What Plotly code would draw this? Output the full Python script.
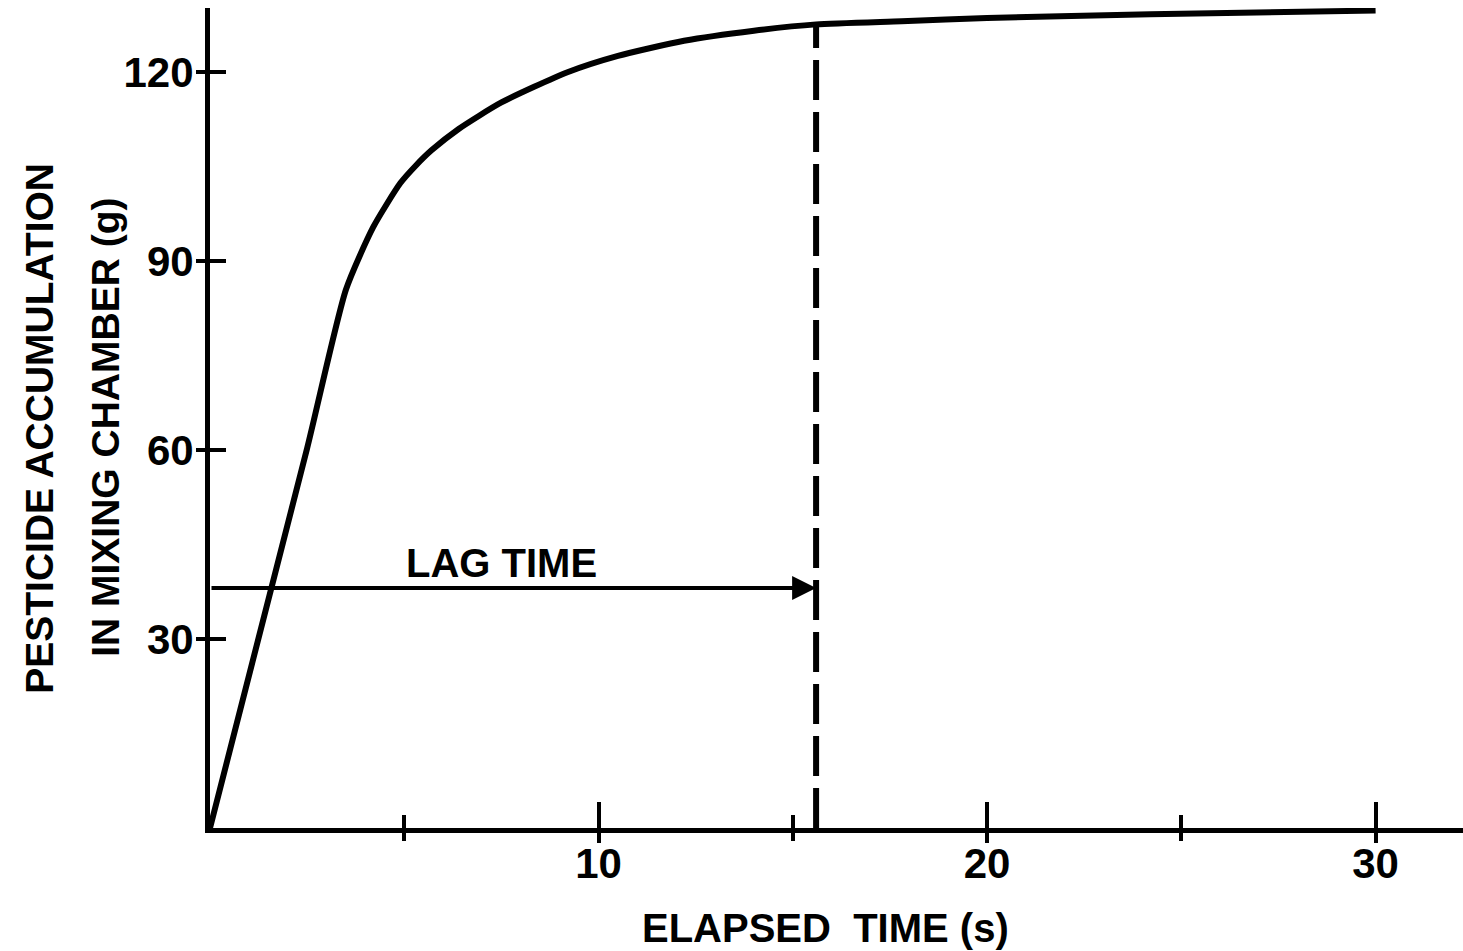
import plotly.graph_objects as go

# ---- data ----
time_s = [0, 2.5, 3.5, 4.2, 4.9, 5.3, 5.7, 6.4, 7.5, 9.2, 10.5, 12.2, 14.0, 15.6, 17.8, 20, 24.2, 30]
accum_g = [0, 60.3, 85.5, 95.4, 102.4, 105.2, 107.6, 111.0, 115.2, 120.0, 122.6, 125.0, 126.6, 127.6, 128.1, 128.6, 129.2, 129.8]

lag_time = 15.6
lag_top = 127.8
lag_level = 38.1

x_major = [10, 20, 30]
x_minor = [5, 15, 25]
y_major = [30, 60, 90, 120]

x_range = [0, 32.25]
y_range = [0, 130.2]

FONT = "Liberation Sans, Arial, Helvetica, sans-serif"

fig = go.Figure()

fig.add_trace(go.Scatter(
    x=time_s, y=accum_g, mode="lines",
    line=dict(color="black", width=6, shape="spline", smoothing=0.6),
    cliponaxis=False, showlegend=False, hoverinfo="skip"))

fig.add_trace(go.Scatter(
    x=[lag_time, lag_time], y=[0, lag_top], mode="lines",
    line=dict(color="black", width=6, dash="40px,12px"),
    showlegend=False, hoverinfo="skip"))

# overlay axes to draw the inner halves of the crossing ticks
fig.add_trace(go.Scatter(x=[], y=[], xaxis="x2", yaxis="y2", showlegend=False))

fig.add_annotation(
    x=lag_time, y=lag_level, ax=0, ay=lag_level, axref="x", ayref="y",
    xref="x", yref="y", text="", showarrow=True,
    arrowhead=2, arrowsize=1.2, arrowwidth=4, arrowcolor="black", standoff=0)

fig.add_annotation(
    x=7.5, y=lag_level, xref="x", yref="y", text="LAG TIME", showarrow=False,
    yanchor="bottom", yshift=1,
    font=dict(family=FONT, size=40, color="black", weight="bold"))

fig.add_annotation(
    x=0.491, y=-0.122, xref="paper", yref="paper", text="ELAPSED&nbsp;&nbsp;TIME (s)",
    showarrow=False, xanchor="center", yanchor="middle",
    font=dict(family=FONT, size=40, color="black", weight="bold"))

fig.add_annotation(
    x=-0.1357, y=0.488, xref="paper", yref="paper",
    text="PESTICIDE ACCUMULATION",
    showarrow=False, textangle=-90, xanchor="center", yanchor="middle",
    font=dict(family=FONT, size=39, color="black", weight="bold"))

fig.add_annotation(
    x=-0.083, y=0.488, xref="paper", yref="paper",
    text="IN MIXING CHAMBER (g)",
    showarrow=False, textangle=-90, xanchor="center", yanchor="middle",
    font=dict(family=FONT, size=39, color="black", weight="bold"))

tickfont = dict(family=FONT, size=42, color="black", weight="bold")

fig.update_layout(
    width=1463, height=951,
    margin=dict(l=210, r=0, t=8, b=123),
    paper_bgcolor="white", plot_bgcolor="white",
    showlegend=False,
    xaxis=dict(
        range=x_range, tickmode="array", tickvals=x_major,
        ticktext=[str(v) for v in x_major],
        ticks="outside", ticklen=10, tickwidth=4, tickcolor="black",
        minor=dict(tickmode="array", tickvals=x_minor, ticks="outside",
                   ticklen=8, tickwidth=4, tickcolor="black"),
        showline=True, linewidth=5, linecolor="black",
        showgrid=False, zeroline=False, tickfont=tickfont,
        ticklabelstandoff=-15),
    yaxis=dict(
        range=y_range, tickmode="array", tickvals=y_major,
        ticktext=[str(v) for v in y_major],
        ticks="outside", ticklen=9, tickwidth=4, tickcolor="black",
        showline=True, linewidth=5, linecolor="black",
        showgrid=False, zeroline=False, tickfont=tickfont,
        ticklabelstandoff=-6),
    xaxis2=dict(
        overlaying="x", anchor="y", range=x_range,
        tickmode="array", tickvals=x_major,
        ticks="inside", ticklen=26, tickwidth=4, tickcolor="black",
        minor=dict(tickmode="array", tickvals=x_minor, ticks="inside",
                   ticklen=13, tickwidth=4, tickcolor="black"),
        showticklabels=False, showline=False, showgrid=False, zeroline=False),
    yaxis2=dict(
        overlaying="y", anchor="x", range=y_range,
        tickmode="array", tickvals=y_major,
        ticks="inside", ticklen=16, tickwidth=4, tickcolor="black",
        showticklabels=False, showline=False, showgrid=False, zeroline=False),
)

fig.write_html("out.html")
